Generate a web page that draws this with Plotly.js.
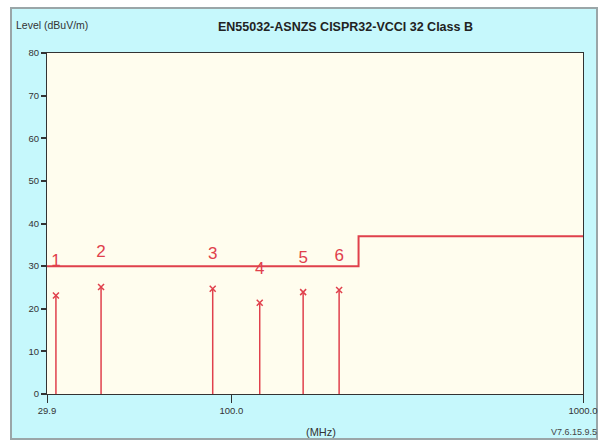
<!DOCTYPE html>
<html>
<head>
<meta charset="utf-8">
<script src="https://cdn.plot.ly/plotly-3.0.1.min.js"></script>
<style>
html,body{margin:0;padding:0;background:#fff;width:611px;height:444px;overflow:hidden;}
#frame{position:absolute;left:10px;top:7px;width:588px;height:433px;background:#c6f8fc;border:2px solid #9aa6a8;box-sizing:border-box;}
#chart{position:absolute;left:0;top:0;width:611px;height:444px;}
</style>
</head>
<body>
<div id="frame"></div>
<div id="chart"></div>
<script>
// Data
const markerLabels = ['1','2','3','4','5','6'];
const markerFreq = [31.7, 42.6, 88.5, 120.4, 160.0, 202.5];   // MHz
const markerLevel = [23.1, 25.1, 24.7, 21.4, 23.9, 24.4];    // dBuV/m
const labelLevel = [31.0, 33.2, 32.7, 29.2, 31.7, 32.2];     // label heights
const limitFreq = [29.9, 230, 230, 1000];
const limitLevel = [30, 30, 37, 37];
const xTickVals = [29.9, 100, 1000];
const xTickText = ['29.9', '100.0', '1000.0'];

const red = '#e0404c';
const font = 'Liberation Sans Narrow, Arial Narrow, Liberation Sans, Arial, sans-serif';

// stems
const stemX = [], stemY = [];
markerFreq.forEach((f, i) => { stemX.push(f, f, null); stemY.push(0, markerLevel[i], null); });

const traces = [
  {x: limitFreq, y: limitLevel, mode: 'lines', line: {color: red, width: 2}, hoverinfo: 'skip'},
  {x: stemX, y: stemY, mode: 'lines', line: {color: red, width: 1.5}, hoverinfo: 'skip'},
  {x: markerFreq, y: markerLevel, mode: 'markers', marker: {symbol: 'x-thin', size: 6, line: {color: red, width: 1.5}}, hoverinfo: 'skip'},
  {x: markerFreq, y: labelLevel, mode: 'text', text: markerLabels, textfont: {family: font, size: 17, color: red}, textposition: 'middle center', hoverinfo: 'skip'}
];

const layout = {
  width: 611, height: 444,
  margin: {l: 47, r: 28, t: 53, b: 50},
  paper_bgcolor: 'rgba(0,0,0,0)',
  plot_bgcolor: '#fffdee',
  showlegend: false,
  font: {family: font, size: 10, color: '#333'},
  xaxis: {
    type: 'log', range: [Math.log10(29.9), 3],
    tickvals: xTickVals, ticktext: xTickText,
    ticks: 'outside', ticklen: 8, tickwidth: 1, tickcolor: '#333',
    showgrid: false, zeroline: false,
    showline: true, linecolor: '#333', linewidth: 1, mirror: true,
    tickfont: {family: font, size: 9.5, color: '#333'}
  },
  yaxis: {
    range: [0, 80], dtick: 10,
    ticks: 'outside', ticklen: 5, tickwidth: 2, tickcolor: '#333',
    showgrid: false, zeroline: false,
    showline: true, linecolor: '#333', linewidth: 1, mirror: true,
    tickfont: {family: font, size: 9.5, color: '#333'}
  },
  annotations: [
    {text: '<b>EN55032-ASNZS CISPR32-VCCI 32 Class B</b>', xref: 'paper', yref: 'paper', x: 0.557, y: 1, yshift: 26, xanchor: 'center', yanchor: 'middle', showarrow: false, font: {family: font, size: 12.5, color: '#222'}},
    {text: 'Level (dBuV/m)', xref: 'paper', yref: 'paper', x: 0, xshift: -33, y: 1, yshift: 28, xanchor: 'left', yanchor: 'middle', showarrow: false, font: {family: font, size: 10.5, color: '#333'}},
    {text: '(MHz)', xref: 'paper', yref: 'paper', x: 0.512, y: 0, yshift: -38, xanchor: 'center', yanchor: 'middle', showarrow: false, font: {family: font, size: 11, color: '#333'}},
    {text: 'V7.6.15.9.5', xref: 'paper', yref: 'paper', x: 1, xshift: 16, y: 0, yshift: -38, xanchor: 'right', yanchor: 'middle', showarrow: false, font: {family: font, size: 9, color: '#444'}}
  ]
};

Plotly.newPlot('chart', traces, layout, {staticPlot: true, displayModeBar: false});
</script>
</body>
</html>
